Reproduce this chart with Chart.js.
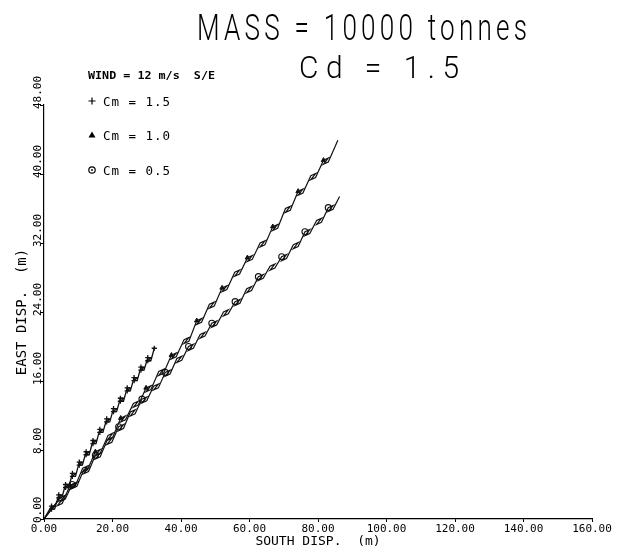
<!DOCTYPE html>
<html>
<head>
<meta charset="utf-8">
<script src="https://cdn.jsdelivr.net/npm/chart.js@4"></script>
<style>
html,body{margin:0;padding:0;background:#fff;}
canvas{display:block;}
</style>
</head>
<body>
<canvas id="c" width="631" height="551"></canvas>
<script>
// ---- data ----
const xTicks = [0, 20, 40, 60, 80, 100, 120, 140, 160];
const yTicks = [0, 8, 16, 24, 32, 40, 48];
const seriesNames = ['Cm = 1.5', 'Cm = 1.0', 'Cm = 0.5'];

// Cm = 1.5 (short, dense track)
const cm15X = [0,
  2.2,3.1,2.2,3.1, 4.3,5.2,4.3,5.2, 6.3,7.2,6.3,7.2, 8.3,9.2,8.3,9.2,
  10.3,11.2,10.3,11.2, 12.3,13.2,12.3,13.2, 14.3,15.2,14.3,15.2, 16.3,17.2,16.3,17.2,
  18.3,19.2,18.3,19.2, 20.3,21.2,20.3,21.2, 22.3,23.2,22.3,23.2, 24.3,25.2,24.3,25.2,
  26.3,27.2,26.3,27.2, 28.3,29.2,28.3,29.2, 30.3,31.2,30.3,31.2,
  32.2];
const cm15Y = [0,
  1.5,1.5,1.15,1.15, 2.8,2.8,2.45,2.45, 4.0,4.0,3.65,3.65, 5.3,5.3,4.95,4.95,
  6.6,6.6,6.25,6.25, 7.8,7.8,7.45,7.45, 9.1,9.1,8.75,8.75, 10.4,10.4,10.05,10.05,
  11.6,11.6,11.25,11.25, 12.8,12.8,12.45,12.45, 14.0,14.0,13.65,13.65, 15.2,15.2,14.85,14.85,
  16.4,16.4,16.05,16.05, 17.6,17.6,17.25,17.25, 18.7,18.7,18.35,18.35,
  19.8];

// Cm = 1.0 (upper long track)
const cm10X = [0,
  3.9,5.3,3.9,5.3, 7.6,9.0,7.6,9.0, 11.3,12.7,11.3,12.7, 15.0,16.4,15.0,16.4,
  18.7,20.1,18.7,20.1, 22.4,23.8,22.4,23.8, 26.1,27.5,26.1,27.5, 29.8,31.2,29.8,31.2,
  33.5,34.9,33.5,34.9, 37.2,38.6,37.2,38.6, 40.9,42.3,40.9,42.3, 44.6,46.0,44.6,46.0,
  48.3,49.7,48.3,49.7, 52.0,53.4,52.0,53.4, 55.7,57.1,55.7,57.1, 59.4,60.8,59.4,60.8,
  63.1,64.5,63.1,64.5, 66.8,68.2,66.8,68.2, 70.5,71.9,70.5,71.9, 74.2,75.6,74.2,75.6,
  77.9,79.3,77.9,79.3, 81.6,83.0,81.6,83.0,
  85.8];
const cm10Y = [0,
  2.0,2.25,1.55,1.8, 3.9,4.15,3.45,3.7, 5.9,6.15,5.45,5.7, 7.8,8.05,7.35,7.6,
  9.7,9.95,9.25,9.5, 11.7,11.95,11.25,11.5, 13.4,13.65,12.95,13.2, 15.2,15.45,14.75,15.0,
  17.1,17.35,16.65,16.9, 19.0,19.25,18.55,18.8, 20.8,21.05,20.35,20.6, 23.0,23.25,22.55,22.8,
  24.9,25.15,24.45,24.7, 26.8,27.05,26.35,26.6, 28.6,28.85,28.15,28.4, 30.3,30.55,29.85,30.1,
  32.0,32.25,31.55,31.8, 33.9,34.15,33.45,33.7, 36.0,36.25,35.55,35.8, 38.0,38.25,37.55,37.8,
  39.8,40.05,39.35,39.6, 41.6,41.85,41.15,41.4,
  43.9];

// Cm = 0.5 (lower long track)
const cm05X = [0,
  4.8,6.2,4.8,6.2, 8.2,9.6,8.2,9.6, 11.6,13.0,11.6,13.0, 15.0,16.4,15.0,16.4,
  18.4,19.8,18.4,19.8, 21.8,23.2,21.8,23.2, 25.2,26.6,25.2,26.6, 28.6,30.0,28.6,30.0,
  32.0,33.4,32.0,33.4, 35.4,36.8,35.4,36.8, 38.8,40.2,38.8,40.2, 42.2,43.6,42.2,43.6,
  45.6,47.0,45.6,47.0, 49.0,50.4,49.0,50.4, 52.4,53.8,52.4,53.8, 55.8,57.2,55.8,57.2,
  59.2,60.6,59.2,60.6, 62.6,64.0,62.6,64.0, 66.0,67.4,66.0,67.4, 69.4,70.8,69.4,70.8,
  72.8,74.2,72.8,74.2, 76.2,77.6,76.2,77.6, 79.6,81.0,79.6,81.0, 83.0,84.4,83.0,84.4,
  86.3];
const cm05Y = [0,
  2.5,2.75,2.05,2.3, 4.0,4.25,3.55,3.8, 5.7,5.95,5.25,5.5, 7.4,7.65,6.95,7.2,
  9.1,9.35,8.65,8.9, 10.7,10.95,10.25,10.5, 12.4,12.65,11.95,12.2, 13.9,14.15,13.45,13.7,
  15.4,15.65,14.95,15.2, 17.0,17.25,16.55,16.8, 18.6,18.85,18.15,18.4, 20.0,20.25,19.55,19.8,
  21.4,21.65,20.95,21.2, 22.7,22.95,22.25,22.5, 24.0,24.25,23.55,23.8, 25.2,25.45,24.75,25.0,
  26.7,26.95,26.25,26.5, 28.1,28.35,27.65,27.9, 29.3,29.55,28.85,29.1, 30.4,30.65,29.95,30.2,
  31.8,32.05,31.35,31.6, 33.3,33.55,32.85,33.1, 34.6,34.85,34.15,34.4, 36.1,36.35,35.65,35.9,
  37.4];

const toPts = (xs, ys) => xs.map((x, i) => ({x: x, y: ys[i]}));

const MONO = '"DejaVu Sans Mono", "Liberation Mono", monospace';
const THIN = 'Roboto, "DejaVu Sans", sans-serif';

function fitText(ctx, text, font, x1, x2, baseline, spacing) {
  ctx.save();
  ctx.font = font;
  if ('letterSpacing' in ctx) ctx.letterSpacing = (spacing || 0) + 'px';
  ctx.textAlign = 'left';
  ctx.textBaseline = 'alphabetic';
  const w = ctx.measureText(text).width - (spacing || 0);
  ctx.translate(x1, baseline);
  ctx.scale((x2 - x1) / w, 1);
  ctx.fillStyle = '#000';
  ctx.fillText(text, 0, 0);
  ctx.restore();
}

const decor = {
  id: 'decor',
  afterDraw(chart) {
    const ctx = chart.ctx;
    // titles
    fitText(ctx, 'MASS = 10000 tonnes', '300 37px ' + THIN, 197, 527, 40, 6);
    fitText(ctx, 'WIND = 12 m/s  S/E', 'bold 11px ' + MONO, 88, 215, 79, 0);
    fitText(ctx, 'Cd = 1.5', '300 32px ' + THIN, 299, 459, 78, 8);

    // y tick labels, rotated, starting at the tick
    const ys = chart.scales.y;
    ctx.save();
    ctx.fillStyle = '#000';
    ctx.font = '11px ' + MONO;
    ys.ticks.forEach(t => {
      const py = ys.getPixelForValue(t.value);
      ctx.save();
      ctx.translate(38, py + 4);
      ctx.rotate(-Math.PI / 2);
      ctx.textAlign = 'left';
      ctx.textBaseline = 'middle';
      ctx.fillText(Number(t.value).toFixed(2), 0, 0);
      ctx.restore();
    });
    ctx.restore();

    // legend
    const rows = [101, 135, 170];
    const mx = 92;
    ctx.save();
    ctx.strokeStyle = '#000';
    ctx.fillStyle = '#000';
    ctx.lineWidth = 1.2;
    rows.forEach((ry, i) => {
      ctx.beginPath();
      if (i === 0) {
        ctx.moveTo(mx - 3.5, ry); ctx.lineTo(mx + 3.5, ry);
        ctx.moveTo(mx, ry - 3.5); ctx.lineTo(mx, ry + 3.5);
        ctx.stroke();
      } else if (i === 1) {
        ctx.moveTo(mx, ry - 3.5); ctx.lineTo(mx + 3.5, ry + 2.5); ctx.lineTo(mx - 3.5, ry + 2.5);
        ctx.closePath(); ctx.fill();
      } else {
        ctx.arc(mx, ry, 3.2, 0, Math.PI * 2); ctx.stroke();
        ctx.beginPath(); ctx.arc(mx, ry, 0.9, 0, Math.PI * 2); ctx.fill();
      }
      fitText(ctx, seriesNames[i], '13px ' + MONO, 103, 170, ry + 5, 1);
    });
    ctx.restore();
  }
};

new Chart(document.getElementById('c'), {
  type: 'line',
  data: {
    datasets: [
      {
        label: seriesNames[0],
        data: toPts(cm15X, cm15Y),
        borderColor: '#111', borderWidth: 1.3,
        pointStyle: 'cross', pointRadius: (c) => (c.dataIndex % 2 === 1 ? 2.6 : 0),
        pointBorderColor: '#111', pointBorderWidth: 1.3, pointBackgroundColor: '#111'
      },
      {
        label: seriesNames[1],
        data: toPts(cm10X, cm10Y),
        borderColor: '#111', borderWidth: 1.2,
        pointStyle: 'triangle', pointRadius: (c) => (c.dataIndex % 8 === 5 ? 2.6 : 0),
        pointBorderColor: '#111', pointBorderWidth: 1, pointBackgroundColor: '#111'
      },
      {
        label: seriesNames[2],
        data: toPts(cm05X, cm05Y),
        borderColor: '#111', borderWidth: 1.2,
        pointStyle: 'circle', pointRadius: (c) => (c.dataIndex % 8 === 5 ? 3 : 0),
        pointBorderColor: '#111', pointBorderWidth: 1.1, pointBackgroundColor: 'rgba(255,255,255,0)'
      }
    ]
  },
  options: {
    responsive: false,
    animation: false,
    devicePixelRatio: 1,
    layout: { padding: { left: 0, top: 105, right: 39, bottom: 0 } },
    plugins: { legend: { display: false }, title: { display: false }, tooltip: { enabled: false } },
    elements: { line: { tension: 0 } },
    scales: {
      x: {
        type: 'linear', min: 0, max: 160,
        afterBuildTicks: (s) => { s.ticks = xTicks.map(v => ({value: v})); },
        ticks: { color: '#000', font: { family: MONO, size: 11 }, padding: 1, maxRotation: 0, autoSkip: false,
                 callback: (v) => Number(v).toFixed(2) },
        grid: { display: true, drawOnChartArea: false, drawTicks: true, tickLength: 3, color: '#000' },
        border: { display: true, color: '#000', width: 1.2 },
        title: { display: true, text: 'SOUTH DISP.  (m)', color: '#000', font: { family: MONO, size: 13 }, padding: { top: 0, bottom: 2 } },
        afterFit: (s) => { s.height = 32; }
      },
      y: {
        type: 'linear', min: 0, max: 48,
        afterBuildTicks: (s) => { s.ticks = yTicks.map(v => ({value: v})); },
        ticks: { display: false },
        grid: { display: true, drawOnChartArea: false, drawTicks: true, tickLength: 4, color: '#000' },
        border: { display: true, color: '#000', width: 1.2 },
        title: { display: true, text: 'EAST DISP.  (m)', color: '#000', font: { family: MONO, size: 14 }, padding: { top: 14, bottom: 0 } },
        afterFit: (s) => { s.width = 44; }
      }
    }
  },
  plugins: [decor]
});
</script>
</body>
</html>
